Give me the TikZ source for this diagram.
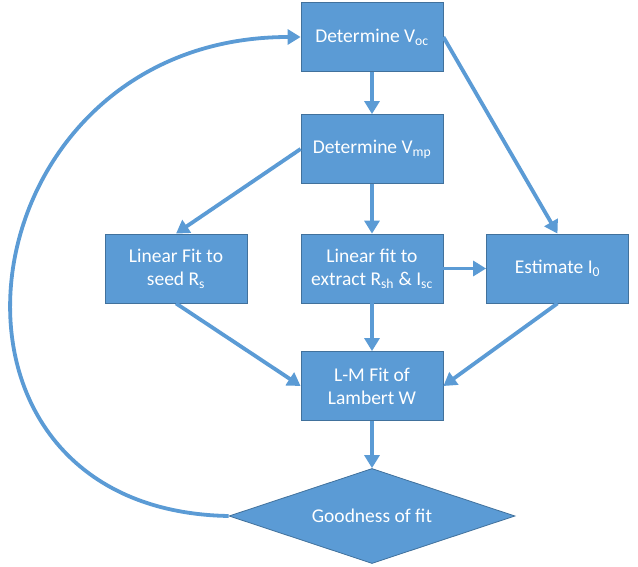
\documentclass[tikz,border=0pt]{standalone}
\usepackage{fontspec}
\setmainfont{Carlito}
\usetikzlibrary{shapes.geometric,arrows.meta}
\definecolor{boxfill}{HTML}{5B9BD5}
\definecolor{boxline}{HTML}{41719C}
\definecolor{arrowc}{HTML}{5B9BD5}
\begin{document}
\begin{tikzpicture}[x=1pt,y=-1pt,
  box/.style={draw=boxline,line width=0.8pt,fill=boxfill,text=white,
    minimum width=142pt,minimum height=69pt,inner sep=0pt,
    align=center,font=\fontsize{19.5}{23}\selectfont},
  decision/.style={diamond,draw=boxline,line width=0.8pt,fill=boxfill,text=white,
    shape aspect=3,minimum width=286pt,minimum height=95pt,inner sep=0pt,
    font=\fontsize{19.5}{23}\selectfont},
  conn/.style={draw=arrowc,line width=3.8pt,
    -{Triangle[length=13pt,width=15pt]}}]
\useasboundingbox (0,0) rectangle (638,567);
\node[box] (voc) at (372,37) {Determine V\textsubscript{oc}};
\node[box] (vmp) at (372,149) {Determine V\textsubscript{mp}};
\node[box] (seed) at (176,268.5) {Linear Fit to\\seed R\textsubscript{s}};
\node[box] (ext) at (372,268.5) {Linear fit to\\extract R\textsubscript{sh} \& I\textsubscript{sc}};
\node[box] (est) at (557.5,268.5) {Estimate I\textsubscript{0}};
\node[box] (lm) at (372,386) {L-M Fit of\\Lambert W};
\node[decision] (dia) at (372,516) {Goodness of fit};
\draw[conn] (voc.south) -- (vmp.north);
\draw[conn] (voc.east) -- (est.north);
\draw[conn] (vmp.west) -- (seed.north);
\draw[conn] (vmp.south) -- (ext.north);
\draw[conn] (ext.east) -- (est.west);
\draw[conn] (seed.south) -- (lm.west);
\draw[conn] (ext.south) -- (lm.north);
\draw[conn] (est.south) -- (lm.east);
\draw[conn] (lm.south) -- (dia.north);
\draw[conn] (dia.west) .. controls (-100,510) and (-40,37) .. (voc.west);
\end{tikzpicture}
\end{document}
